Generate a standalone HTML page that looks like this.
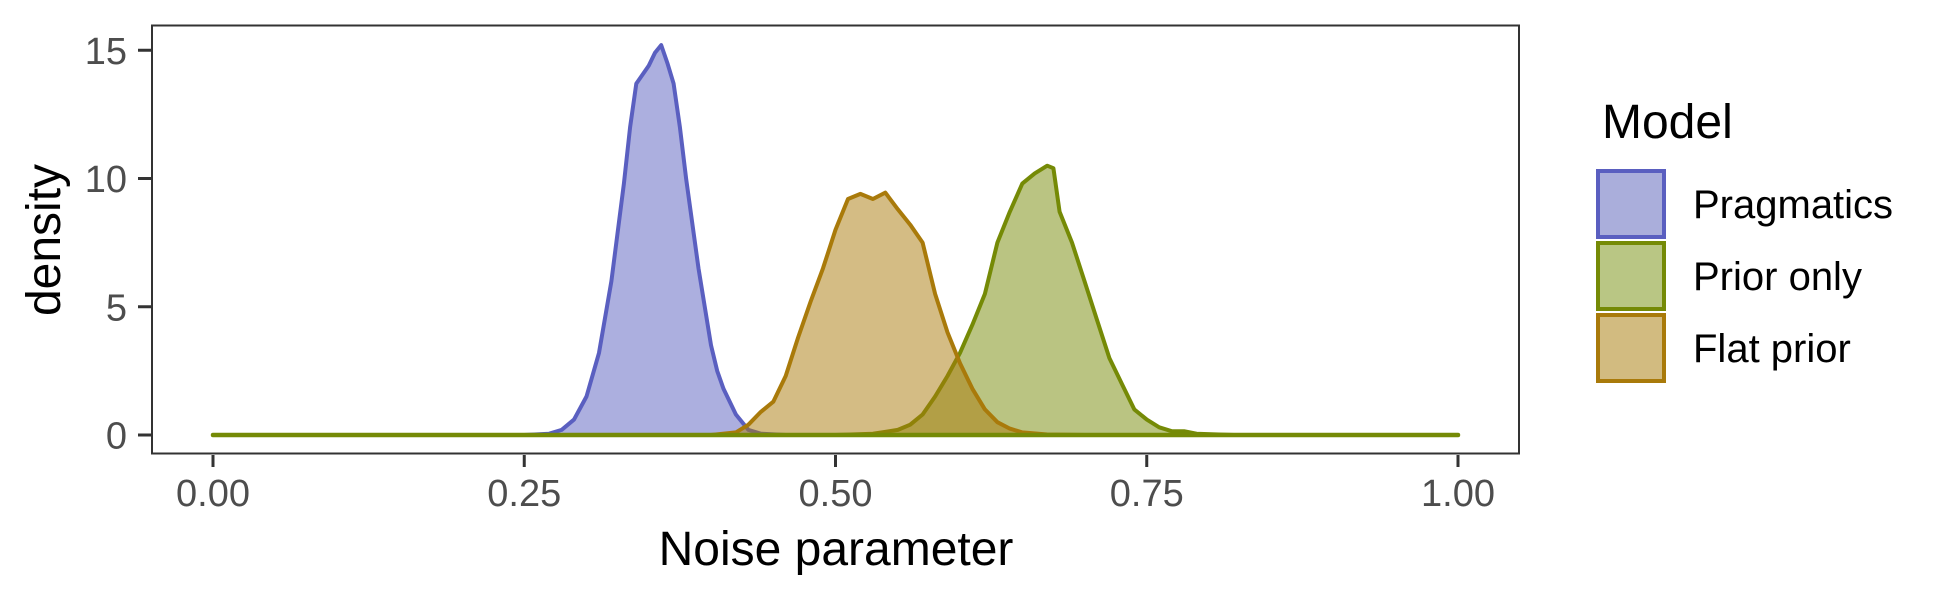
<!DOCTYPE html>
<html><head><meta charset="utf-8">
<style>
html,body{margin:0;padding:0;background:#fff;}
svg{display:block;font-family:"Liberation Sans",Arial,sans-serif;}
</style></head>
<body>
<svg id="chart" width="1950" height="600" viewBox="0 0 1950 600" xmlns="http://www.w3.org/2000/svg">
  <rect x="0" y="0" width="1950" height="600" fill="#fff"/>
  <g id="marks"></g>
  <rect x="152" y="25.5" width="1367" height="428" fill="none" stroke="#333" stroke-width="2"/>
  <g id="axes"></g>
  <text x="836" y="565" font-size="48" text-anchor="middle" fill="#000">Noise parameter</text>
  <text transform="translate(60,240) rotate(-90)" font-size="48" text-anchor="middle" fill="#000">density</text>
  <g>
    <text x="1602" y="138" font-size="48" fill="#000">Model</text>
    <g>
      <rect x="1598" y="171" width="66" height="66" fill="#aaaedb" stroke="#5a5fc0" stroke-width="4"/>
      <text x="1693" y="218" font-size="40" fill="#000">Pragmatics</text>
    </g>
    <g>
      <rect x="1598" y="243" width="66" height="66" fill="#b9c684" stroke="#758a06" stroke-width="4"/>
      <text x="1693" y="290" font-size="40" fill="#000">Prior only</text>
    </g>
    <g>
      <rect x="1598" y="315" width="66" height="66" fill="#d2bb80" stroke="#a97a0a" stroke-width="4"/>
      <text x="1693" y="362" font-size="40" fill="#000">Flat prior</text>
    </g>
  </g>
</svg>
<script>
const xTicks = [0, 0.25, 0.5, 0.75, 1];
const xTickLabels = ["0.00", "0.25", "0.50", "0.75", "1.00"];
const yTicks = [0, 5, 10, 15];
const yTickLabels = ["0", "5", "10", "15"];
const seriesNames = ["Pragmatics", "Prior only", "Flat prior"];
const pragX = [0, 0.25, 0.27, 0.28, 0.29, 0.30, 0.31, 0.32, 0.33, 0.335, 0.34, 0.35, 0.355, 0.36, 0.365, 0.37, 0.375, 0.38, 0.39, 0.40, 0.405, 0.41, 0.42, 0.43, 0.44, 0.46, 1];
const pragY = [0, 0, 0.05, 0.2, 0.6, 1.5, 3.2, 6.0, 9.8, 12.0, 13.7, 14.4, 14.9, 15.2, 14.5, 13.7, 12.0, 10.0, 6.5, 3.5, 2.5, 1.8, 0.8, 0.2, 0.05, 0, 0];
const priorX = [0, 0.50, 0.53, 0.55, 0.56, 0.57, 0.58, 0.59, 0.60, 0.61, 0.62, 0.63, 0.64, 0.65, 0.66, 0.67, 0.675, 0.68, 0.69, 0.70, 0.71, 0.72, 0.73, 0.74, 0.75, 0.76, 0.77, 0.78, 0.79, 0.82, 1];
const priorY = [0, 0, 0.05, 0.2, 0.4, 0.8, 1.5, 2.3, 3.2, 4.3, 5.5, 7.5, 8.7, 9.8, 10.2, 10.5, 10.4, 8.7, 7.5, 6.0, 4.5, 3.0, 2.0, 1.0, 0.6, 0.3, 0.15, 0.15, 0.05, 0, 0];
const flatX = [0, 0.40, 0.42, 0.43, 0.44, 0.45, 0.46, 0.47, 0.48, 0.49, 0.50, 0.51, 0.52, 0.53, 0.54, 0.55, 0.56, 0.57, 0.58, 0.59, 0.60, 0.61, 0.62, 0.63, 0.64, 0.65, 0.67, 0.70, 1];
const flatY = [0, 0, 0.1, 0.4, 0.9, 1.3, 2.3, 3.8, 5.2, 6.5, 8.0, 9.2, 9.4, 9.2, 9.45, 8.8, 8.2, 7.5, 5.5, 4.0, 2.8, 1.8, 1.0, 0.5, 0.25, 0.1, 0.02, 0, 0];

const NS = "http://www.w3.org/2000/svg";
function sx(v){ return 213 + v * (1458 - 213); }
function sy(v){ return 435 - v * 25.65; }

const marks = document.getElementById("marks");
const styles = [
  {fill:"#5a5fc0", stroke:"#5a5fc0", name:"pragmatics"},
  {fill:"#758a06", stroke:"#758a06", name:"prior-only"},
  {fill:"#a97a0a", stroke:"#a97a0a", name:"flat-prior"}
];
const allX = [pragX, priorX, flatX];
const allY = [pragY, priorY, flatY];
for (let s = 0; s < 3; s++) {
  const xs = allX[s], ys = allY[s];
  let d = "";
  for (let i = 0; i < xs.length; i++) {
    d += (i === 0 ? "M" : "L") + sx(xs[i]).toFixed(1) + "," + sy(ys[i]).toFixed(1);
  }
  const area = document.createElementNS(NS, "path");
  area.setAttribute("d", d + "L" + sx(xs[xs.length-1]).toFixed(1) + "," + sy(0) + "L" + sx(xs[0]).toFixed(1) + "," + sy(0) + "Z");
  area.setAttribute("fill", styles[s].fill);
  area.setAttribute("fill-opacity", "0.5");
  
  
  marks.appendChild(area);
  const line = document.createElementNS(NS, "path");
  line.setAttribute("d", d);
  line.setAttribute("fill", "none");
  line.setAttribute("stroke", styles[s].stroke);
  line.setAttribute("stroke-width", "4");
  line.setAttribute("stroke-linejoin", "round");
  line.setAttribute("stroke-linecap", "round");
  
  
  marks.appendChild(line);
}
const base = document.createElementNS(NS, "line");
base.setAttribute("x1", sx(0)); base.setAttribute("x2", sx(1));
base.setAttribute("y1", sy(0)); base.setAttribute("y2", sy(0));
base.setAttribute("stroke", "#758a06"); base.setAttribute("stroke-width", "4.5"); base.setAttribute("stroke-linecap", "round");


marks.appendChild(base);

const axes = document.getElementById("axes");
for (let i = 0; i < xTicks.length; i++) {
  const x = sx(xTicks[i]);
  const t = document.createElementNS(NS, "line");
  t.setAttribute("x1", x); t.setAttribute("x2", x); t.setAttribute("y1", 455); t.setAttribute("y2", 467);
  t.setAttribute("stroke", "#333"); t.setAttribute("stroke-width", "3");
  
  
  axes.appendChild(t);
  const l = document.createElementNS(NS, "text");
  l.setAttribute("x", x); l.setAttribute("y", 506);
  l.setAttribute("text-anchor", "middle"); l.setAttribute("font-size", "38"); l.setAttribute("fill", "#4d4d4d");
  l.textContent = xTickLabels[i];
  
  
  axes.appendChild(l);
}
for (let i = 0; i < yTicks.length; i++) {
  const y = sy(yTicks[i]);
  const t = document.createElementNS(NS, "line");
  t.setAttribute("x1", 138); t.setAttribute("x2", 151); t.setAttribute("y1", y); t.setAttribute("y2", y);
  t.setAttribute("stroke", "#333"); t.setAttribute("stroke-width", "3");
  
  
  axes.appendChild(t);
  const l = document.createElementNS(NS, "text");
  l.setAttribute("x", 127); l.setAttribute("y", y + 13.5);
  l.setAttribute("text-anchor", "end"); l.setAttribute("font-size", "38"); l.setAttribute("fill", "#4d4d4d");
  l.textContent = yTickLabels[i];
  
  
  axes.appendChild(l);
}
</script>
</body></html>
